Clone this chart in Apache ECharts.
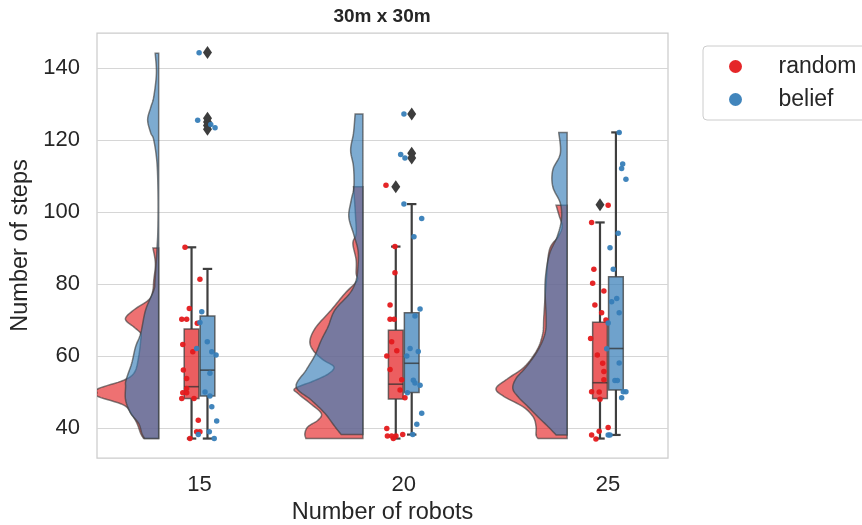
<!DOCTYPE html>
<html>
<head>
<meta charset="utf-8">
<script src="https://cdn.jsdelivr.net/npm/echarts@6/dist/echarts.min.js"></script>
<style>
  html, body { margin: 0; padding: 0; background: #fff; }
  #chart { width: 862px; height: 525px; }
</style>
</head>
<body>
<div id="chart"></div>
<script>
// categories
var robots = ["15", "20", "25"];
var hues = ["random", "belief"];
var yTicks = [40, 60, 80, 100, 120, 140];

// box stats per robot count: [min, q1, median, q3, max]
var boxRandom = [
  [37.1, 48.2, 51.5, 67.5, 90.2],
  [37.1, 48.1, 52.2, 67.2, 90.4],
  [37.1, 48.2, 52.6, 69.4, 97.1]
];
var boxBelief = [
  [37.1, 48.9, 56.1, 71.1, 84.2],
  [38.2, 49.9, 58.0, 72.0, 102.2],
  [38.1, 50.6, 62.1, 82.0, 122.1]
];

// fliers
var outlierRandom = [[], [107], [102]];
var outlierBelief = [[144.3, 126, 125, 124, 123], [127.2, 116.3, 115], []];

// half violin density: [steps, density]
var kdeRandom = [
  [[37.1,0.073],[38.5,0.088],[41.3,0.106],[43.8,0.132],[46.4,0.171],[48.7,0.294],[49.8,0.302],[51,0.294],[53.3,0.171],[55.5,0.118],[59.8,0.098],[64.4,0.088],[66.3,0.088],[68.1,0.122],[70.3,0.163],[72.8,0.122],[75.6,0.049],[78,0.029],[81,0.024],[85.7,0.016],[90,0.028]],
  [[37.1,0.279],[38.5,0.284],[40.4,0.269],[42.2,0.22],[44.1,0.204],[46.9,0.259],[49.6,0.318],[51,0.333],[53,0.245],[55,0.171],[57,0.142],[59,0.196],[61.7,0.245],[64.4,0.259],[68.1,0.229],[72.8,0.155],[77.4,0.088],[80.9,0.029],[83,0.033],[86.7,0.033],[91.3,0.049],[94,0.033],[98.7,0.036],[103.3,0.041],[107,0.046]],
  [[37.1,0.142],[38.1,0.152],[40.4,0.152],[43.1,0.166],[45.9,0.215],[48.7,0.307],[51,0.348],[53.8,0.289],[57,0.209],[61.7,0.147],[66.3,0.119],[70.9,0.114],[80.2,0.103],[89.4,0.087],[93.1,0.044],[96,0.024],[99,0.039],[101.9,0.054]]
];
var kdeBelief = [
  [[37.1,0.069],[38.5,0.082],[41.3,0.098],[44.1,0.137],[47.8,0.162],[51.5,0.162],[53.3,0.16],[58,0.132],[62.6,0.113],[66.3,0.088],[72.8,0.064],[78.3,0.024],[81,0.018],[90,0.008],[95,0.004],[104,0.003],[113.5,0.008],[120,0.024],[122,0.039],[125.6,0.054],[129,0.039],[132,0.024],[138.5,0.011],[144.1,0.017]],
  [[38.2,0.106],[40.4,0.137],[44.1,0.186],[47.8,0.253],[51.5,0.327],[56.1,0.278],[60.2,0.235],[64.4,0.204],[68.1,0.171],[72.8,0.137],[77.4,0.064],[80.9,0.034],[84.8,0.024],[89.4,0.024],[94,0.046],[98.7,0.069],[103.3,0.057],[107,0.044],[112.6,0.046],[117.2,0.06],[121.9,0.046],[127.2,0.038]],
  [[38.1,0.054],[40.4,0.093],[43.1,0.142],[45.9,0.191],[48.7,0.24],[51,0.266],[53.8,0.25],[57,0.2],[61.7,0.142],[66.3,0.108],[70.9,0.103],[80.2,0.108],[88,0.088],[93.1,0.049],[97.8,0.028],[102.4,0.033],[107,0.07],[111.7,0.07],[116.3,0.033],[122.1,0.041]]
];

// strip points: [x offset from category, steps]
var stripRandom = [
  [[-0.071,90.2],[0.002,81.3],[-0.05,73.2],[-0.063,70.2],[-0.087,70.2],[-0.011,69.1],[-0.082,63.2],[-0.033,61.2],[-0.079,56.1],[-0.063,53.8],[-0.063,51],[-0.082,49.8],[-0.063,49.8],[-0.087,48.2],[-0.027,48.2],[-0.047,37.1],[-0.006,42.2],[-0.014,39],[0.002,39]],
  [[-0.087,107.4],[-0.043,90.4],[-0.043,83.1],[-0.067,74.2],[-0.067,70.2],[-0.047,70.2],[-0.059,64],[-0.034,61.5],[-0.083,60],[-0.067,56.3],[-0.01,53.4],[-0.018,50.6],[0.006,48.4],[-0.083,39.9],[-0.08,37.8],[-0.059,37.8],[-0.038,37.8],[-0.005,38.2],[-0.051,37.1]],
  [[0.001,101.9],[-0.08,97.1],[-0.069,84.1],[-0.075,80.2],[-0.02,78.1],[-0.064,74.2],[-0.031,72],[-0.01,70],[-0.085,64.9],[-0.052,60.3],[-0.026,58],[-0.02,55.7],[-0.02,53.4],[-0.08,50.1],[-0.043,50],[-0.039,48],[0.001,40.2],[-0.043,39.1],[-0.08,38.1],[-0.059,37]]
];
var stripBelief = [
  [[-0.002,144.2],[-0.009,125.5],[0.076,123.4],[0.055,124.3],[0.011,72.3],[0.002,69.3],[0.038,64],[0.06,61.2],[0.081,60.3],[0.051,55.2],[-0.014,62.1],[0.027,50],[0.051,48.9],[0.06,45.9],[0.084,42],[-0.006,38.2],[0.048,39],[0.072,37.1]],
  [[0.001,127.2],[-0.015,116],[0.006,115],[0.001,102.2],[0.088,98.2],[0.05,93.1],[0.08,73.1],[0.055,71.1],[0.031,62.1],[0.071,61.3],[0.015,60],[0.047,53.3],[0.055,52.5],[0.08,51.9],[0.018,49.8],[0.088,44.1],[0.064,41.1],[0.044,38.2]],
  [[0.055,122.1],[0.072,113.3],[0.067,112.1],[0.088,109.1],[0.05,94.1],[0.01,90.1],[0.026,84.1],[0.018,75.1],[0.043,76],[0.055,72],[0.001,69.2],[-0.006,62],[0.055,58.1],[0.034,53.2],[0.046,53.2],[0.075,50.1],[0.088,50.1],[0.067,48.4],[0.001,38.1],[0.01,38.1]]
];

var hueColors = ["#e41a1c", "#377eb8"];
var violinFill = ["rgba(228,26,28,0.62)", "rgba(55,126,184,0.65)"];
var boxFill = ["rgba(228,26,28,0.7)", "rgba(55,126,184,0.72)"];
var violinShift = -0.2;   // violins sit left of the boxes
var hueShift = 0.039;     // box / strip offset per hue
var boxHalf = 0.036;

// catmull-rom through the pixel points, only for drawing
function smoothCurve(p) {
  var out = [];
  for (var i = 0; i < p.length - 1; i++) {
    var p0 = p[Math.max(i - 1, 0)], p1 = p[i], p2 = p[i + 1], p3 = p[Math.min(i + 2, p.length - 1)];
    for (var t = 0; t < 1; t += 0.125) {
      var t2 = t * t, t3 = t2 * t;
      var pt = [];
      for (var k = 0; k < 2; k++) {
        pt.push(0.5 * (2 * p1[k] + (-p0[k] + p2[k]) * t +
          (2 * p0[k] - 5 * p1[k] + 4 * p2[k] - p3[k]) * t2 +
          (-p0[k] + 3 * p1[k] - 3 * p2[k] + p3[k]) * t3));
      }
      out.push(pt);
    }
  }
  out.push(p[p.length - 1]);
  return out;
}

function renderViolin(params, api) {
  var g = api.value(0), h = api.value(1);
  var kde = (h === 0 ? kdeRandom : kdeBelief)[g];
  var edge = g + violinShift;
  var pts = kde.map(function (d) { return api.coord([edge - d[1], d[0]]); });
  var right = api.coord([edge, 0])[0];
  var curve = smoothCurve(pts).map(function (p) { return [Math.min(p[0], right), p[1]]; });
  curve.push([right, pts[pts.length - 1][1]]);
  curve.push([right, pts[0][1]]);
  return {
    type: "polygon",
    shape: { points: curve },
    style: { fill: violinFill[h], stroke: "rgba(60,60,60,0.65)", lineWidth: 1.5 }
  };
}

function renderBox(params, api) {
  var g = api.value(0), h = api.value(1);
  var cx = g + (h === 0 ? -hueShift : hueShift);
  var lo = api.coord([cx - boxHalf, api.value(3)]);
  var hi = api.coord([cx + boxHalf, api.value(5)]);
  var c = api.coord([cx, api.value(4)]);
  var pMin = api.coord([cx, api.value(2)]);
  var pMax = api.coord([cx, api.value(6)]);
  var cap = (hi[0] - lo[0]) * 0.32;
  var dark = "#3f3f3f";
  return {
    type: "group",
    children: [
      { type: "line", shape: { x1: c[0], y1: lo[1], x2: c[0], y2: pMin[1] }, style: { stroke: dark, lineWidth: 2.2 } },
      { type: "line", shape: { x1: c[0], y1: hi[1], x2: c[0], y2: pMax[1] }, style: { stroke: dark, lineWidth: 2.2 } },
      { type: "line", shape: { x1: c[0] - cap, y1: pMin[1], x2: c[0] + cap, y2: pMin[1] }, style: { stroke: dark, lineWidth: 2.2 } },
      { type: "line", shape: { x1: c[0] - cap, y1: pMax[1], x2: c[0] + cap, y2: pMax[1] }, style: { stroke: dark, lineWidth: 2.2 } },
      { type: "rect", shape: { x: lo[0], y: hi[1], width: hi[0] - lo[0], height: lo[1] - hi[1] },
        style: { fill: boxFill[h], stroke: "rgba(60,60,60,0.75)", lineWidth: 1.5 } },
      { type: "line", shape: { x1: lo[0], y1: c[1], x2: hi[0], y2: c[1] }, style: { stroke: "rgba(50,50,50,0.75)", lineWidth: 1.6 } }
    ]
  };
}

var violinData = [], boxData = [], flierData = [];
var stripData = [[], []];
robots.forEach(function (r, g) {
  [boxRandom, boxBelief].forEach(function (b, h) {
    violinData.push([g, h]);
    boxData.push([g, h].concat(b[g]));
  });
  outlierRandom[g].forEach(function (v) { flierData.push([g - hueShift, v]); });
  outlierBelief[g].forEach(function (v) { flierData.push([g + hueShift, v]); });
  stripRandom[g].forEach(function (d) { stripData[0].push([g + d[0], d[1]]); });
  stripBelief[g].forEach(function (d) { stripData[1].push([g + d[0], d[1]]); });
});

var textColor = "#262626";
var font = "Liberation Sans, Arial, sans-serif";

var option = {
  animation: false,
  textStyle: { fontFamily: font },
  title: {
    text: "30m x 30m", left: 382, top: 7, textAlign: "center", padding: 0,
    textStyle: { fontSize: 19, fontWeight: "bold", color: textColor, fontFamily: font }
  },
  legend: {
    orient: "vertical", left: 703, top: 46,
    padding: [9, 40, 9, 26],
    itemWidth: 26, itemHeight: 13, itemGap: 10, icon: "circle",
    borderColor: "#cccccc", borderWidth: 1, borderRadius: 4,
    textStyle: { fontSize: 23, color: textColor, padding: [0, 0, 0, 25], fontFamily: font },
    data: hues.map(function (n, i) { return { name: n, itemStyle: { color: hueColors[i] } }; })
  },
  grid: {
    left: 97, top: 33, width: 571, height: 425,
    outerBoundsMode: "none", containLabel: false,
    show: true, borderColor: "#cccccc", borderWidth: 1.25
  },
  xAxis: {
    type: "value", min: -0.502, max: 2.294,
    name: "Number of robots", nameLocation: "middle", nameGap: 41,
    nameTextStyle: { fontSize: 23.5, color: textColor },
    axisLine: { show: false }, axisTick: { show: false }, splitLine: { show: false },
    axisLabel: {
      customValues: [0, 1, 2], fontSize: 22, color: textColor, margin: 16,
      formatter: function (v) { return robots[Math.round(v)]; }
    }
  },
  yAxis: {
    type: "value", min: 31.7, max: 149.7,
    name: "Number of steps", nameLocation: "middle", nameGap: 61,
    nameTextStyle: { fontSize: 23.5, color: textColor },
    axisLine: { show: false },
    axisTick: { show: false, customValues: yTicks },
    axisLabel: { customValues: yTicks, fontSize: 22, color: textColor, margin: 17 },
    splitLine: { lineStyle: { color: "#d6d6d6", width: 1.1 } }
  },
  series: [
    { name: "violin", type: "custom", renderItem: renderViolin, data: violinData, clip: true, z: 2 },
    { name: "box", type: "custom", renderItem: renderBox, data: boxData, z: 3 },
    {
      name: "fliers", type: "scatter", data: flierData, symbol: "diamond", symbolSize: [9, 13],
      itemStyle: { color: "#3d3d3d", opacity: 1 }, z: 4
    },
    {
      name: hues[0], type: "scatter", data: stripData[0], symbolSize: 5.5,
      itemStyle: { color: hueColors[0], opacity: 0.95 }, z: 5
    },
    {
      name: hues[1], type: "scatter", data: stripData[1], symbolSize: 5.5,
      itemStyle: { color: hueColors[1], opacity: 0.95 }, z: 5
    }
  ]
};

var myChart = echarts.init(document.getElementById("chart"), null, { renderer: "canvas" });
myChart.setOption(option);
</script>
</body>
</html>
